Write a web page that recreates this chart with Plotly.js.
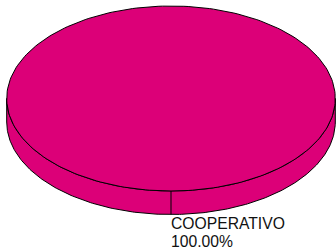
<!DOCTYPE html>
<html><head><meta charset="utf-8">
<script src="https://cdn.plot.ly/plotly-3.0.1.min.js"></script>
<style>html,body{margin:0;padding:0;background:#fff}#chart{width:336px;height:250px}</style>
</head><body><div id="chart"></div>
<script>
// ---- data ----
const categories = ["COOPERATIVO"];
const values = [100];
const colors = ["#DC0078"];

// ---- geometry / style (not data) ----
const W = 336, H = 250;
const cx = 171, cy = 98.5, rx = 164.3, ry = 92.5, depth = 23.5;
const startDeg = 90; // slices start at bottom (screen coords, y down)
const N = 240;

const total = values.reduce((a, b) => a + b, 0);
const traces = [];
const annotations = [];

function pt(deg, dy) {
  const a = deg * Math.PI / 180;
  return [cx + rx * Math.cos(a), cy + ry * Math.sin(a) + (dy || 0)];
}

let acc = 0;
values.forEach((v, i) => {
  const a0 = startDeg + 360 * acc / total;
  const a1 = startDeg + 360 * (acc + v) / total;
  acc += v;
  // side wall: visible front part (screen angles 0..180)
  const sx = [], sy = [];
  const lo = 0, hi = 180;
  for (let k = 0; k <= N; k++) {
    const d = lo + (hi - lo) * k / N;
    const p = pt(d, 0); sx.push(p[0]); sy.push(p[1]);
  }
  for (let k = N; k >= 0; k--) {
    const d = lo + (hi - lo) * k / N;
    const p = pt(d, depth); sx.push(p[0]); sy.push(p[1]);
  }
  sx.push(sx[0]); sy.push(sy[0]);
  traces.push({x: sx, y: sy, type: 'scatter', mode: 'lines', fill: 'toself',
    fillcolor: colors[i], line: {color: '#000', width: 1}, hoverinfo: 'skip'});
  // slice edge on the side wall
  const e0 = pt(a0, 0), e1 = pt(a0, depth);
  traces.push({x: [e0[0], e1[0]], y: [e0[1], e1[1]], type: 'scatter', mode: 'lines',
    line: {color: '#000', width: 1}, hoverinfo: 'skip'});
  // top face
  const tx = [cx], ty = [cy];
  for (let k = 0; k <= N; k++) {
    const d = a0 + (a1 - a0) * k / N;
    const p = pt(d, 0); tx.push(p[0]); ty.push(p[1]);
  }
  const full = v === total;
  if (full) { tx.shift(); ty.shift(); }
  else { tx.push(cx); ty.push(cy); }
  traces.push({x: tx, y: ty, type: 'scatter', mode: 'lines', fill: 'toself',
    fillcolor: colors[i], line: {color: '#000', width: 1}, hoverinfo: 'skip'});
  // label
  const lp = pt(a0, depth);
  const f = {family: 'Liberation Sans, Arial, sans-serif', size: 15.7, color: '#111'};
  annotations.push({x: lp[0], y: lp[1], xref: 'x', yref: 'y', xanchor: 'left', yanchor: 'top',
    yshift: 1.5, xshift: -2, showarrow: false, text: categories[i], font: f});
  annotations.push({x: lp[0], y: lp[1], xref: 'x', yref: 'y', xanchor: 'left', yanchor: 'top',
    yshift: -16.5, xshift: -2, showarrow: false, text: (100 * v / total).toFixed(2) + '%', font: f});
});

const layout = {
  width: W, height: H, margin: {l: 0, r: 0, t: 0, b: 0},
  paper_bgcolor: '#fff', plot_bgcolor: '#fff', showlegend: false,
  xaxis: {range: [0, W], visible: false, fixedrange: true},
  yaxis: {range: [H, 0], visible: false, fixedrange: true},
  annotations: annotations
};
Plotly.newPlot('chart', traces, layout, {displayModeBar: false, staticPlot: true});
</script></body></html>
